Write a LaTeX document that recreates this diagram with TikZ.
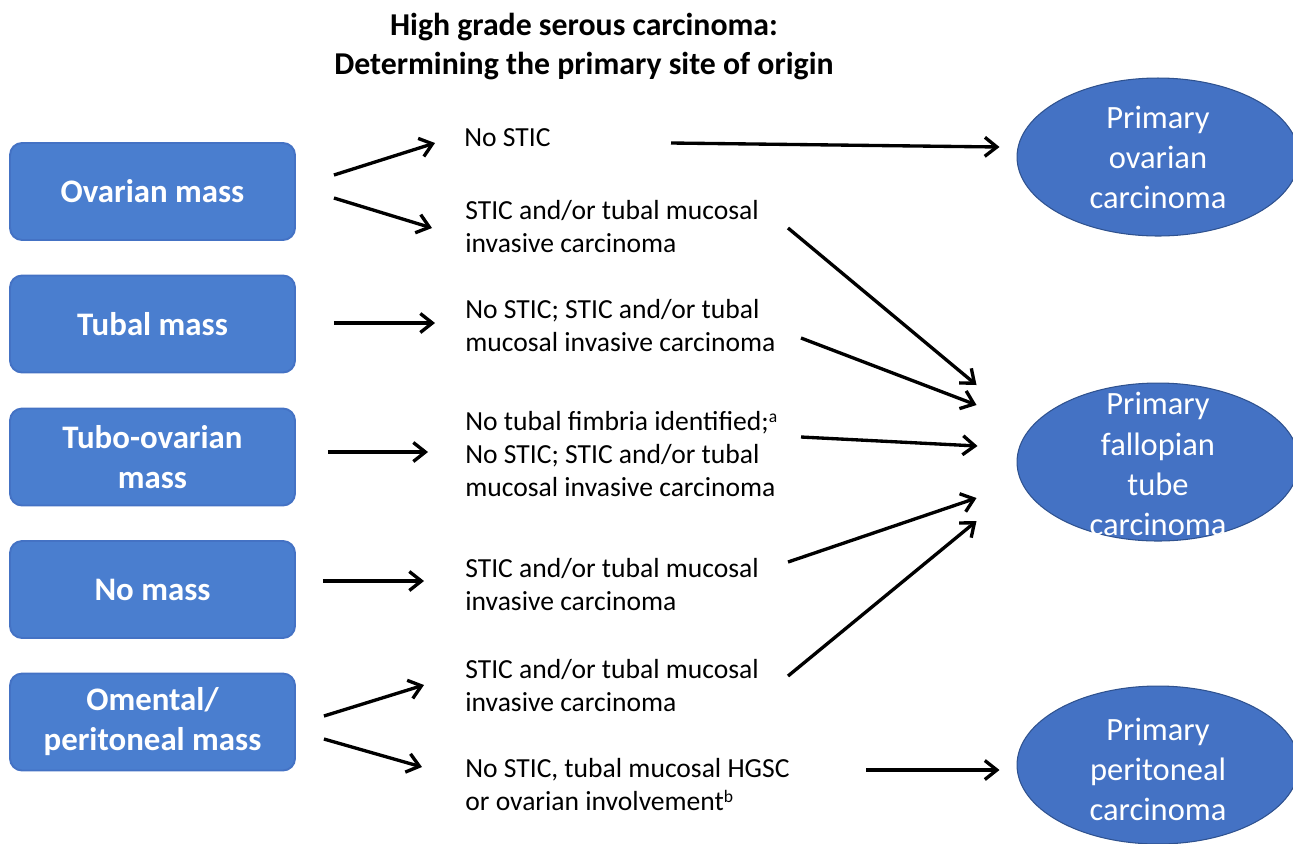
\documentclass[tikz,border=0pt]{standalone}
\usepackage{fontspec}
\setmainfont{Carlito}
\usepackage{tikz}
\usetikzlibrary{arrows.meta,shapes,calc}

\definecolor{massblue}{RGB}{74,126,207}
\definecolor{massedge}{RGB}{68,114,196}
\definecolor{siteblue}{RGB}{68,114,196}
\definecolor{siteedge}{RGB}{47,82,143}

\begin{document}
\begin{tikzpicture}[x=0.02cm,y=-0.02cm,
  massbox/.style={draw=massedge,fill=massblue,line width=1.1pt,rounded corners=0.24cm,minimum width=5.7cm,minimum height=1.94cm,text=white,align=center,font=\fontsize{18.7}{22.8}\selectfont\bfseries},
  sitebox/.style={ellipse,draw=siteedge,fill=siteblue,line width=0.6pt,minimum width=5.64cm,minimum height=3.16cm},
  sitetext/.style={text=white,align=center,inner sep=0pt,font=\fontsize{18.5}{22.8}\selectfont},
  finding/.style={anchor=west,inner sep=0pt,align=left,font=\fontsize{15.7}{18.8}\selectfont},
  arr/.style={line width=1.9pt,-{Straight Barb[length=2.4mm,width=3.8mm]}}]
\useasboundingbox (0,0) rectangle (1293,843);
\node[font=\fontsize{18.1}{22.2}\selectfont\bfseries,align=center] (title) at (584,47) {High grade serous carcinoma:\\Determining the primary site of origin};
% masses
\node[massbox] (ovar) at (152.5,191.5) {Ovarian mass};
\node[massbox] (tubal) at (152.5,324) {Tubal mass};
\node[massbox] (tuboov) at (152.5,457) {Tubo-ovarian\\mass};
\node[massbox] (nomass) at (152.5,589.5) {No mass};
\node[massbox] (omen) at (152.5,722) {Omental/\\peritoneal mass};
% findings
\node[finding] (nostic) at (464,138) {No STIC};
\node[finding] (stic1) at (465,226.5) {STIC and/or tubal mucosal\\invasive carcinoma};
\node[finding] (tubtxt) at (465,325.5) {No STIC; STIC and/or tubal\\mucosal invasive carcinoma};
\node[finding] (tbotxt) at (465,454) {No tubal fimbria identified;{\fontsize{10}{10}\selectfont\raisebox{0.9ex}{a}}\\No STIC; STIC and/or tubal\\mucosal invasive carcinoma};
\node[finding] (nmtxt) at (465,584.5) {STIC and/or tubal mucosal\\invasive carcinoma};
\node[finding] (om1txt) at (465,685.5) {STIC and/or tubal mucosal\\invasive carcinoma};
\node[finding] (om2txt) at (465,784.5) {No STIC, tubal mucosal HGSC\\or ovarian involvement{\fontsize{10}{10}\selectfont\raisebox{0.9ex}{b}}};
% primary sites
\node[sitebox] (ovca) at (1158,157) {};
\node[sitetext] (ovcatxt) at (1158,157) {Primary\\ovarian\\carcinoma};
\node[sitebox] (ftca) at (1158,462) {};
\node[sitetext] (ftcatxt) at (1158,464) {Primary\\fallopian\\tube\\carcinoma};
\node[sitebox] (ppca) at (1158,765) {};
\node[sitetext] (ppcatxt) at (1158,769) {Primary\\peritoneal\\carcinoma};
% arrows
\draw[arr] ($(ovar.east)+(38,-16.5)$) -- ($(nostic.west)+(-29,5)$);
\draw[arr] ($(ovar.east)+(38,6.5)$) -- ($(stic1.west)+(-33,1.5)$);
\draw[arr] ($(tubal.east)+(38,-1)$) -- ($(tubtxt.west)+(-30,-2.5)$);
\draw[arr] ($(tuboov.east)+(32,-5)$) -- ($(tbotxt.west)+(-37,-2)$);
\draw[arr] ($(nomass.east)+(27,-8.5)$) -- ($(nmtxt.west)+(-41,-3.5)$);
\draw[arr] ($(omen.east)+(28,-6)$) -- ($(om1txt.west)+(-41,-0.5)$);
\draw[arr] ($(omen.east)+(28,17)$) -- ($(om2txt.west)+(-43,-17.5)$);
\draw[arr] ($(nostic.west)+(207,5)$) -- ($(ovca.west)+(-17,-10)$);
\draw[arr] ($(stic1.west)+(323,1.5)$) -- ($(ftca.west)+(-40,-77)$);
\draw[arr] ($(tubtxt.west)+(336,12.5)$) -- ($(ftca.west)+(-40,-57)$);
\draw[arr] ($(tbotxt.west)+(336,-17)$) -- ($(ftca.west)+(-39,-16)$);
\draw[arr] ($(nmtxt.west)+(323,-22.5)$) -- ($(ftca.west)+(-40,36)$);
\draw[arr] ($(om1txt.west)+(323,-9.5)$) -- ($(ftca.west)+(-40,59)$);
\draw[arr] ($(om2txt.west)+(401,-14.5)$) -- ($(ppca.west)+(-17,5)$);
\end{tikzpicture}
\end{document}
